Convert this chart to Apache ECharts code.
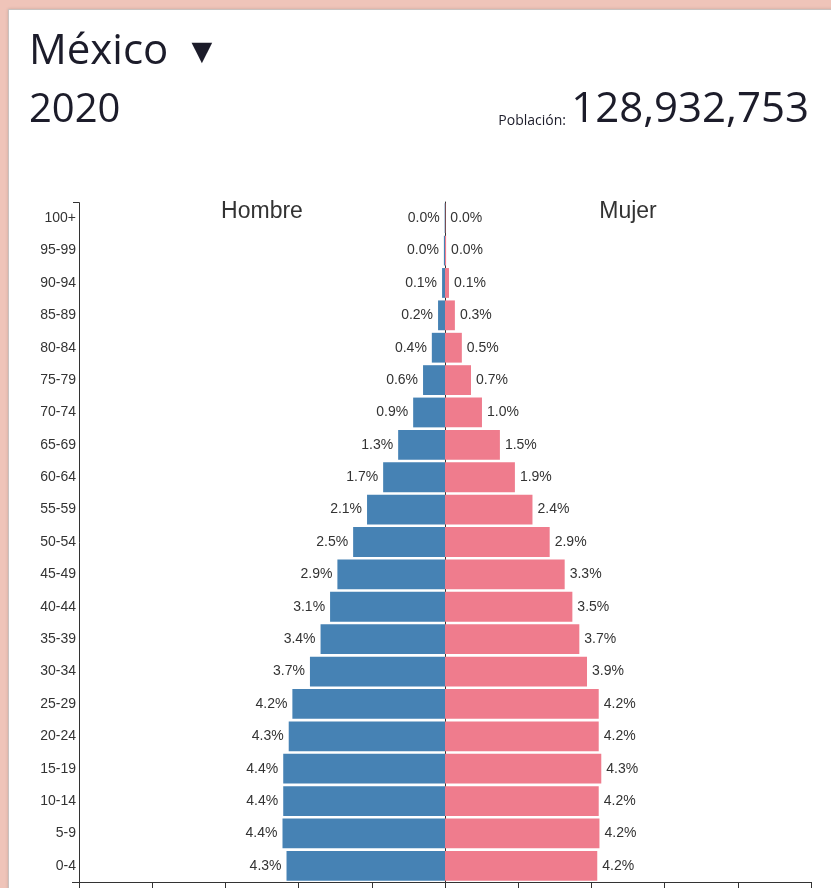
<!DOCTYPE html>
<html>
<head>
<meta charset="utf-8">
<script src="https://cdn.jsdelivr.net/npm/echarts@6/dist/echarts.min.js"></script>
<style>
  html, body { margin: 0; padding: 0; background: #efc4b9; }
  .panel { position: absolute; left: 8px; top: 9px; right: -2px; bottom: -2px; background: #fff; border: 1px solid #c9c2c0; box-shadow: 0 0 3px rgba(0,0,0,0.15); }
  #pyramid { position: absolute; left: 0; top: 0; width: 831px; height: 888px; }
</style>
</head>
<body>
<div class="panel"></div>
<div id="pyramid"></div>
<script>
// grupos de edad, de abajo hacia arriba
var ageGroups = ['0-4', '5-9', '10-14', '15-19', '20-24', '25-29', '30-34', '35-39', '40-44', '45-49',
  '50-54', '55-59', '60-64', '65-69', '70-74', '75-79', '80-84', '85-89', '90-94', '95-99', '100+'];
// % de la poblacion total
var hombres = [4.33, 4.44, 4.42, 4.42, 4.27, 4.17, 3.69, 3.40, 3.14, 2.94,
  2.51, 2.13, 1.69, 1.28, 0.87, 0.60, 0.36, 0.19, 0.08, 0.03, 0.01];
var mujeres = [4.16, 4.22, 4.20, 4.27, 4.20, 4.20, 3.88, 3.67, 3.48, 3.27,
  2.86, 2.39, 1.91, 1.50, 1.01, 0.71, 0.46, 0.27, 0.11, 0.03, 0.01];
var xTicks = [-10, 10, 2]; // min, max, intervalo
var pais = 'México';
var anio = '2020';
var poblacion = '128,932,753';

var labelFont = "'Liberation Sans', Arial, sans-serif";
var titleFont = "'Open Sans', 'Noto Sans', sans-serif";
var gridLeft = 79, gridTop = 202, gridRight = 20, gridBottom = 6;

var chart = echarts.init(document.getElementById('pyramid'));

function pct(p) {
  return Math.abs(p.value).toFixed(1) + '%';
}

var option = {
  animation: false,
  grid: { left: gridLeft, top: gridTop, right: gridRight, bottom: gridBottom, containLabel: false },
  xAxis: {
    type: 'value',
    min: xTicks[0],
    max: xTicks[1],
    interval: xTicks[2],
    axisLine: { show: true, lineStyle: { color: '#333', width: 1 } },
    axisTick: { show: true, length: 6, lineStyle: { color: '#333' } },
    axisLabel: { show: false },
    splitLine: { show: false }
  },
  yAxis: {
    type: 'category',
    data: ageGroups,
    axisLine: { show: true, lineStyle: { color: '#333', width: 1 } },
    axisTick: { show: false },
    axisLabel: { color: '#333', fontSize: 14, fontFamily: labelFont, margin: 3 }
  },
  series: [
    {
      name: 'Hombre',
      type: 'bar',
      stack: 'pop',
      barCategoryGap: '8%',
      data: hombres.map(function (v) { return -v; }),
      itemStyle: { color: '#4682b4' },
      label: { show: true, position: 'left', distance: 5, formatter: pct, color: '#333', fontSize: 14, fontFamily: labelFont }
    },
    {
      name: 'Mujer',
      type: 'bar',
      stack: 'pop',
      barCategoryGap: '8%',
      data: mujeres,
      itemStyle: { color: '#ef7c8d' },
      label: { show: true, position: 'right', distance: 5, formatter: pct, color: '#333', fontSize: 14, fontFamily: labelFont }
    }
  ]
};
chart.setOption(option);

// rotulos Hombre / Mujer centrados en -5 y 5
var xH = chart.convertToPixel({ xAxisIndex: 0 }, -5);
var xM = chart.convertToPixel({ xAxisIndex: 0 }, 5);
var gridBottomY = 888 - gridBottom;

chart.setOption({
  graphic: [
    { type: 'text', left: 29, top: 31, style: { text: pais, font: '42px ' + titleFont, fill: '#1c1c2a' } },
    { type: 'text', x: 202, y: 53, style: { text: '▼', font: '27px DejaVu Sans', fill: '#1c1c2a', align: 'center', verticalAlign: 'middle' } },
    { type: 'text', left: 29, top: 91, style: { text: anio, font: '40px ' + titleFont, fill: '#1c1c2a' } },
    { type: 'text', x: 566, y: 128, style: { text: 'Población:', font: '14px ' + titleFont, fill: '#1c1c2a', align: 'right', verticalAlign: 'bottom' } },
    { type: 'text', x: 809, y: 131, style: { text: poblacion, font: '42px ' + titleFont, fill: '#1c1c2a', align: 'right', verticalAlign: 'bottom' } },
    { type: 'text', x: xH, y: 212, style: { text: 'Hombre', font: '23px ' + labelFont, fill: '#333', align: 'center', verticalAlign: 'middle' } },
    { type: 'text', x: xM, y: 212, style: { text: 'Mujer', font: '23px ' + labelFont, fill: '#333', align: 'center', verticalAlign: 'middle' } },
    // remates del eje vertical
    { type: 'polyline', shape: { points: [[gridLeft - 6, gridTop + 0.5], [gridLeft + 0.5, gridTop + 0.5], [gridLeft + 0.5, gridBottomY]] }, style: { stroke: '#333', lineWidth: 1, fill: null } },
    { type: 'line', shape: { x1: gridLeft - 7, y1: gridBottomY + 0.5, x2: gridLeft, y2: gridBottomY + 0.5 }, style: { stroke: '#333', lineWidth: 1 } }
  ]
});

window.addEventListener('resize', function () { chart.resize(); });
</script>
</body>
</html>
